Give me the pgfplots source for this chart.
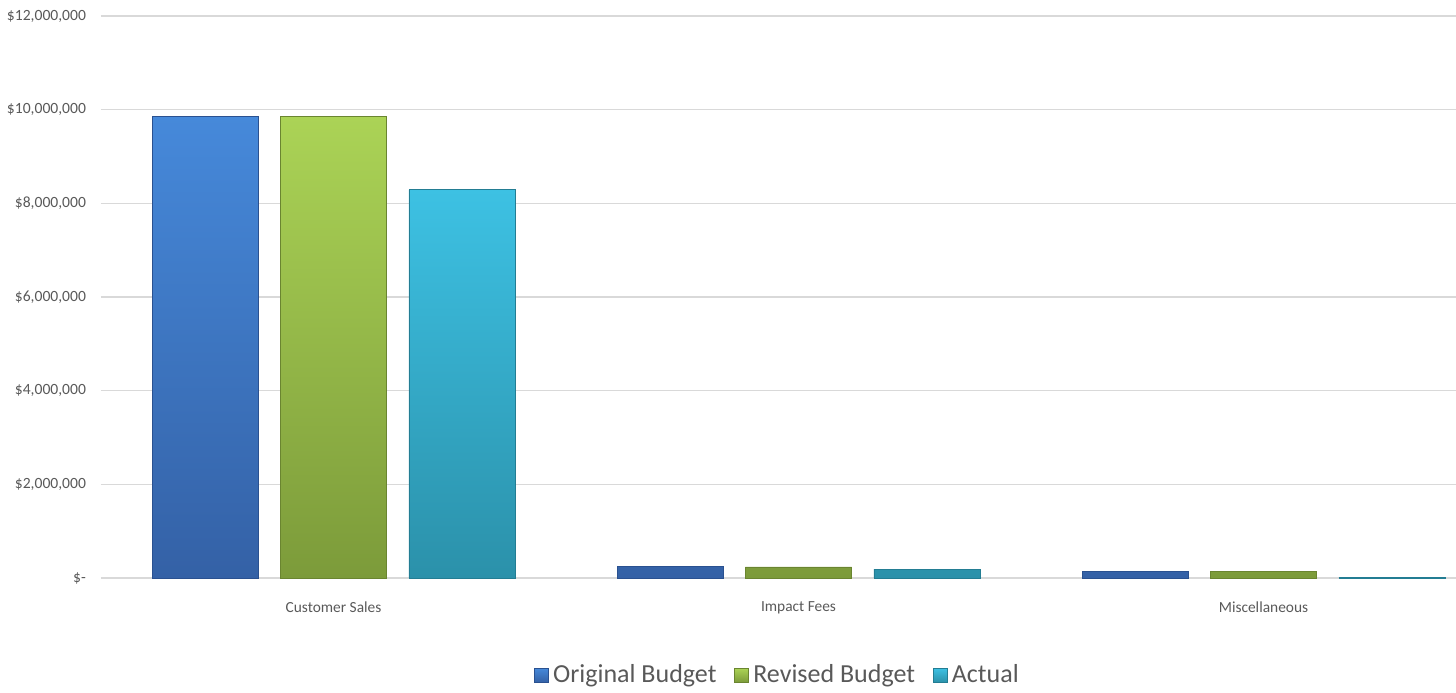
\documentclass[border=0pt]{standalone}
\usepackage{pgfplots}
\pgfplotsset{compat=1.18}
\usepackage{fontspec}
\setmainfont{Carlito}
\definecolor{txt}{HTML}{595959}
\definecolor{gridc}{HTML}{D9D9D9}
\definecolor{obT}{HTML}{4689DA}
\definecolor{obB}{HTML}{3461A6}
\definecolor{obD}{HTML}{2A5190}
\definecolor{rbT}{HTML}{ABD356}
\definecolor{rbB}{HTML}{7C9B3A}
\definecolor{rbD}{HTML}{6A8530}
\definecolor{acT}{HTML}{3DC1E3}
\definecolor{acB}{HTML}{2B91AA}
\definecolor{acD}{HTML}{237D93}
\begin{document}
\begin{tikzpicture}
\useasboundingbox (0,0) rectangle (728pt,346pt);
\begin{axis}[
  at={(50.5pt,57pt)}, anchor=south west,
  scale only axis, width=697.5pt, height=281pt,
  xmin=-0.5, xmax=2.5, ymin=0, ymax=12000000,
  axis line style={draw=none},
  major tick length=0pt,
  xtick={0,1,2},
  xticklabels={Customer Sales, Impact Fees, Miscellaneous},
  xticklabel style={font=\fontsize{7.7}{9}\selectfont, text=txt, yshift=-8.5pt},
  ytick={0,2000000,4000000,6000000,8000000,10000000,12000000},
  yticklabels={{\$-}, {\$2,000,000}, {\$4,000,000}, {\$6,000,000}, {\$8,000,000}, {\$10,000,000}, {\$12,000,000}},
  yticklabel style={font=\fontsize{7.8}{9}\selectfont, text=txt, xshift=-4pt, inner ysep=0.5pt},
  xmajorgrids=false, ymajorgrids=true,
  major grid style={draw=gridc, line width=0.6pt},
  clip=false,
  bar width=0.228,
  legend style={at={(0.5,-0.173)}, anchor=center, xshift=-10pt, draw=none, fill=none,
    font=\fontsize{13}{15}\selectfont, text=txt, legend columns=3,
    /tikz/every even column/.append style={column sep=7pt}},
  legend image code/.code={\path[#1] (0pt,-3.5pt) rectangle (7pt,3.5pt);},
]
\addplot[ybar, bar shift=-0.2763, draw=obD, line width=0.4pt, top color=obT, bottom color=obB]
  coordinates {(0,9857000) (1,240000) (2,135000)};
\addplot[ybar, bar shift=0, draw=rbD, line width=0.4pt, top color=rbT, bottom color=rbB]
  coordinates {(0,9857000) (1,235000) (2,135000)};
\addplot[ybar, bar shift=0.2763, draw=acD, line width=0.4pt, top color=acT, bottom color=acB]
  coordinates {(0,8290000) (1,190000) (2,15000)};
\legend{Original Budget, Revised Budget, Actual}
\end{axis}
\end{tikzpicture}
\end{document}
